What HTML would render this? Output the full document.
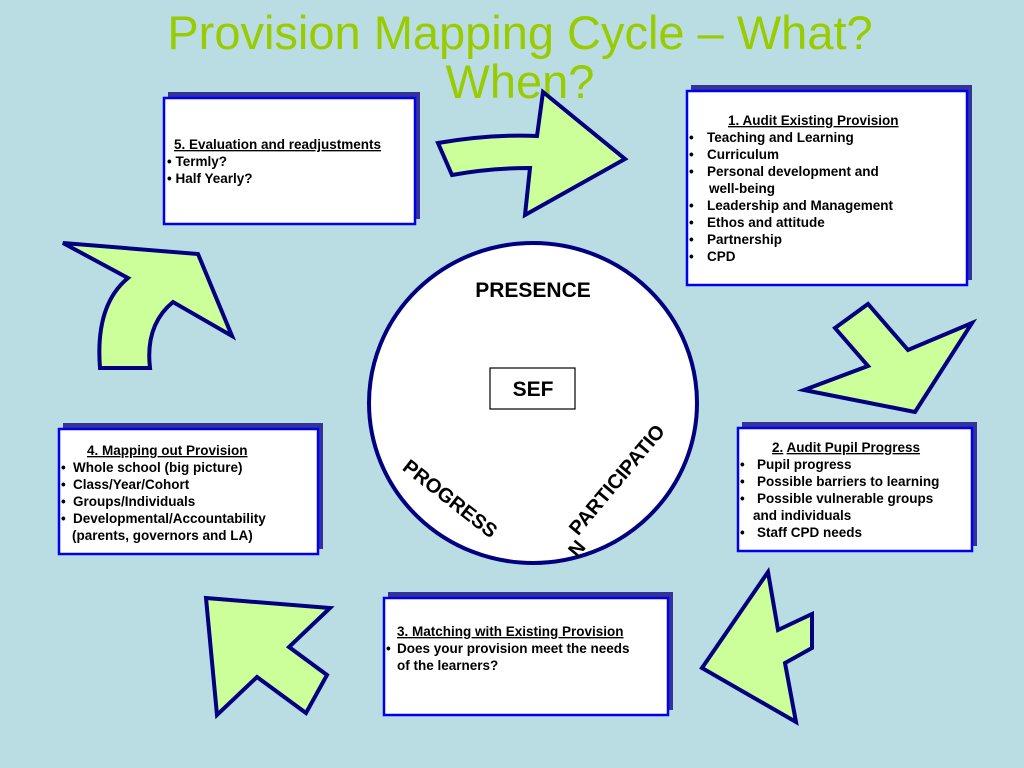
<!DOCTYPE html>
<html><head><meta charset="utf-8"><style>
body{margin:0;width:1024px;height:768px;overflow:hidden;background:#b9dde2;font-family:"Liberation Sans",Arial,sans-serif}
svg{position:absolute;left:0;top:0}
</style></head><body>
<svg width="1024" height="768" viewBox="0 0 1024 768" font-family="Liberation Sans, Arial, sans-serif">
<rect width="1024" height="768" fill="#b9dde2"/>
<g fill="#99cc00" font-size="47" text-anchor="middle">
<text x="520" y="49">Provision Mapping Cycle – What?</text>
<text x="520" y="98">When?</text>
</g>
<g fill="#ccff99" stroke="#000080" stroke-width="4" stroke-linejoin="miter">
<path d="M438,143 Q490,134 537,136 L543,92 L625,159 L525,215 L530,168 Q490,168 452,175 Z"/>
<polygon points="835,328 868,304 908,350 972,323 915,412 804,390 868,366"/>
<polygon points="768,572 778,630 812,614 812,648 785,663 796,722 702,668"/>
<polygon points="206,598 330,608 289,647 327,675 306,713 257,677 217,715"/>
<path d="M63,243 L198,254 L232,336 L173,302 Q145,325 150,368 L100,368 Q95,305 128,278 Z"/>
</g>
<ellipse cx="533" cy="403" rx="164" ry="160" fill="#fff" stroke="#000080" stroke-width="4"/>
<text x="533" y="297" font-size="21" font-weight="bold" text-anchor="middle">PRESENCE</text>
<rect x="490" y="368" width="85" height="41" fill="#fff" stroke="#000" stroke-width="1.2"/>
<text x="533" y="396" font-size="21" font-weight="bold" text-anchor="middle">SEF</text>
<text transform="translate(446,504) rotate(38)" font-size="20" font-weight="bold" text-anchor="middle">PROGRESS</text>
<text transform="translate(622,484) rotate(-50)" font-size="20" font-weight="bold" text-anchor="middle">PARTICIPATIO</text>
<text transform="translate(582,553) rotate(-50)" font-size="20" font-weight="bold" text-anchor="middle">N</text>
<g fill="#333399">
<rect x="168" y="92" width="252" height="127"/>
<rect x="691" y="85" width="281" height="195"/>
<rect x="742" y="422" width="235" height="124"/>
<rect x="388" y="592" width="285" height="118"/>
<rect x="63" y="423" width="260" height="126"/>
</g>
<g fill="#fff" stroke="#0000ee" stroke-width="2.5">
<rect x="164" y="98" width="251" height="126"/>
<rect x="687" y="91" width="280" height="194"/>
<rect x="738" y="428" width="234" height="123"/>
<rect x="384" y="598" width="284" height="117"/>
<rect x="59" y="429" width="259" height="125"/>
</g>
<g font-size="13.5" font-weight="bold" fill="#000">
<text x="174" y="149" text-decoration="underline">5. Evaluation and readjustments</text>
<text x="167" y="166">•  Termly?</text>
<text x="167" y="183">•  Half Yearly?</text>

<text x="728" y="125" text-decoration="underline">1.  Audit Existing Provision</text>
<g><text x="689" y="142">•</text><text x="707" y="142">Teaching and Learning</text>
<text x="689" y="159">•</text><text x="707" y="159">Curriculum</text>
<text x="689" y="176">•</text><text x="707" y="176">Personal development and</text>
<text x="709" y="193">well-being</text>
<text x="689" y="210">•</text><text x="707" y="210">Leadership and Management</text>
<text x="689" y="227">•</text><text x="707" y="227">Ethos and attitude</text>
<text x="689" y="244">•</text><text x="707" y="244">Partnership</text>
<text x="689" y="261">•</text><text x="707" y="261">CPD</text></g>

<text x="772" y="452"><tspan text-decoration="underline">2.</tspan> <tspan text-decoration="underline">Audit Pupil Progress</tspan></text>
<text x="740" y="469">•</text><text x="757" y="469">Pupil progress</text>
<text x="740" y="486">•</text><text x="757" y="486">Possible barriers to learning</text>
<text x="740" y="503">•</text><text x="757" y="503">Possible vulnerable groups</text>
<text x="753" y="520">and individuals</text>
<text x="740" y="537">•</text><text x="757" y="537">Staff CPD needs</text>

<text x="397" y="636" text-decoration="underline">3. Matching with Existing Provision</text>
<text x="386" y="653">•</text><text x="397" y="653">Does your provision meet the needs</text>
<text x="397" y="670">of the learners?</text>

<text x="87" y="455" text-decoration="underline">4. Mapping out Provision</text>
<text x="61" y="472">•</text><text x="73" y="472">Whole school (big picture)</text>
<text x="61" y="489">•</text><text x="73" y="489">Class/Year/Cohort</text>
<text x="61" y="506">•</text><text x="73" y="506">Groups/Individuals</text>
<text x="61" y="523">•</text><text x="73" y="523">Developmental/Accountability</text>
<text x="72" y="540">(parents, governors and LA)</text>
</g>
</svg>
</body></html>
